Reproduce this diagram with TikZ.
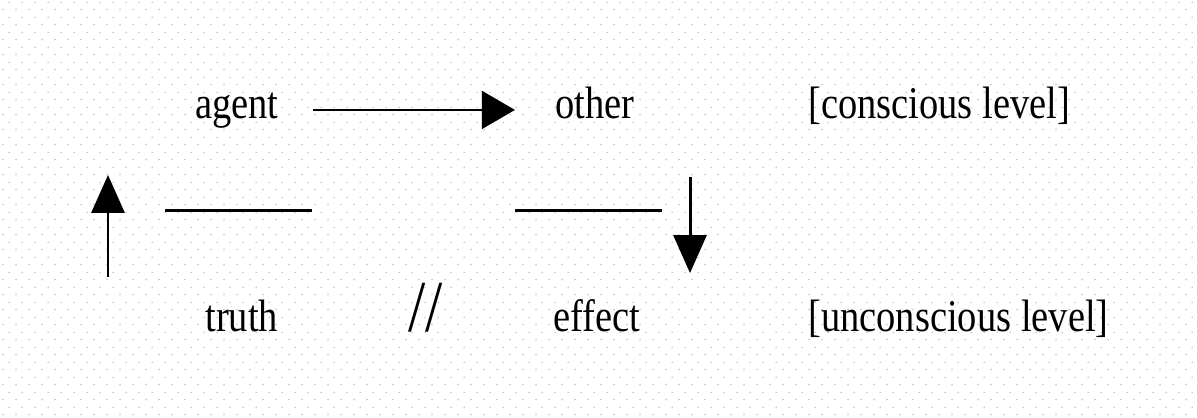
\documentclass[tikz,border=0pt]{standalone}
\usepackage{fontspec}
\setmainfont{Liberation Serif}
\usetikzlibrary{arrows.meta,positioning,patterns}
\tikzstyle{two levels}=[
    x=0.02cm, y=-0.02cm,
    every node/.style={
        inner sep=0pt, anchor=base west,
        font=\fontsize{21.9pt}{26pt}\selectfont,
        text height=13.6pt, text depth=4.4pt,
}]
\tikzstyle{flow}=[-{Triangle[length=18.8pt,width=21.6pt]}, line width=1.1pt]
\tikzstyle{riser}=[-{Triangle[length=21.6pt,width=18.8pt]}, line width=1.7pt]
\tikzstyle{bar}=[line width=1.7pt]
\newcommand{\tallword}[1]{\scalebox{1}[1.18]{#1}}
\pgfdeclarepatternformonly{paperdots}{\pgfpointorigin}{\pgfpoint{7.17pt}{8.54pt}}{\pgfpoint{7.17pt}{8.54pt}}{
    \pgfpathcircle{\pgfpoint{1.8pt}{2.1pt}}{0.5pt}
    \pgfpathcircle{\pgfpoint{5.38pt}{6.37pt}}{0.5pt}
    \pgfusepath{fill}
}

\begin{document}
\begin{tikzpicture}[two levels]
        \useasboundingbox (0,0) rectangle (1197,417);
        \fill[pattern=paperdots, pattern color=black!25] (0,0) rectangle (1197,417);

        \node (agent) at (195,118) {\tallword{agent}};
        \node (other) at (555,118) {\tallword{other}};
        \node (conscious) at (808,118) {\tallword{[conscious level]}};
        \node (truth) at (205,331) {\tallword{truth}};
        \node[font=\fontsize{35.3pt}{40pt}\selectfont] (cut) at (408,331) {\tallword{//}};
        \node (effect) at (553,331) {\tallword{effect}};
        \node (unconscious) at (808,331) {\tallword{[unconscious level]}};

        % bars and risers between the two levels
        \coordinate (up foot) at (108,277);
        \coordinate (up tip) at (108,175);
        \coordinate (down top) at (690,177);
        \coordinate (down tip) at (690,273);
        \coordinate (bar1 a) at (165,210);
        \coordinate (bar1 b) at (312,210);
        \coordinate (bar2 a) at (515,210);
        \coordinate (bar2 b) at (662,210);

        \draw[flow, shorten <=19.1pt, shorten >=22.8pt] (agent) -- (other);
        \draw[riser] (up foot) -- (up tip);
        \draw[riser] (down top) -- (down tip);
        \draw[bar] (bar1 a) -- (bar1 b);
        \draw[bar] (bar2 a) -- (bar2 b);
    \end{tikzpicture}
\end{document}
